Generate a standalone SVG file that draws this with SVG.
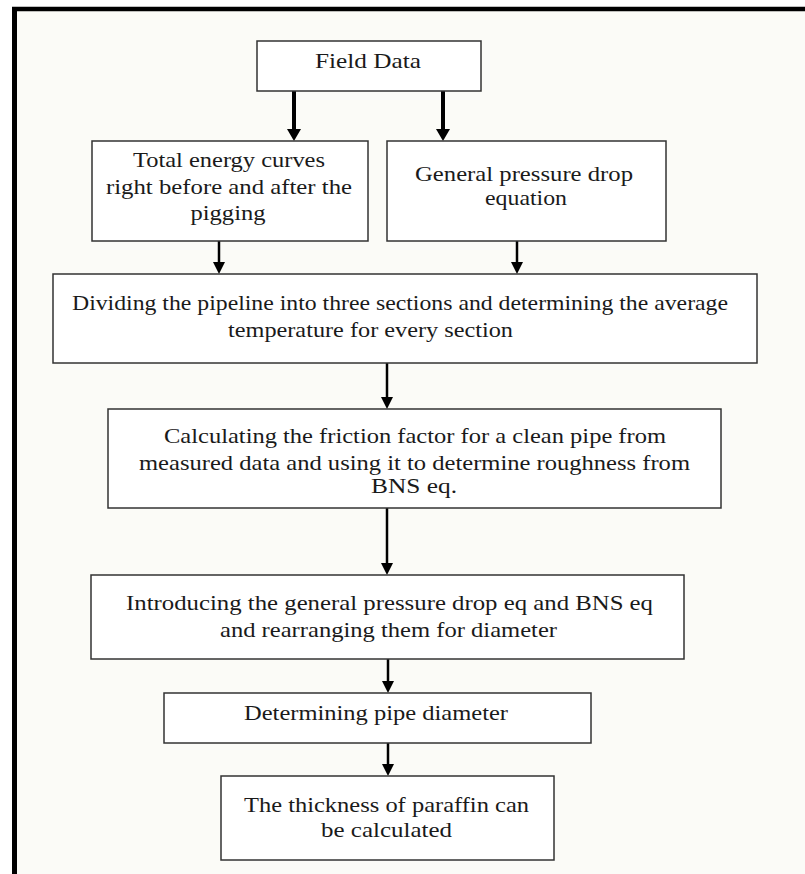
<svg xmlns="http://www.w3.org/2000/svg" width="805" height="874" viewBox="0 0 805 874">
<defs>
<style>
.box{fill:#ffffff;stroke:#333333;stroke-width:1.5}
.t{font-family:"Liberation Serif","Times New Roman",serif;font-size:22px;fill:#1a1a1a;text-anchor:middle}
.c{stroke:#000;fill:none}
.thick{stroke-width:4}
.thin{stroke-width:2.5}
</style>
</defs>
<rect x="0" y="0" width="805" height="874" fill="#ffffff"/>
<rect x="14" y="9" width="791" height="865" fill="#fbfbf7"/>
<g id="frame" stroke="#000" fill="none">
<line x1="12" y1="9" x2="805" y2="9" stroke-width="4.5"/>
<line x1="14.5" y1="7" x2="14.5" y2="874" stroke-width="5"/>
</g>
<g id="connectors">
<line class="c thick" x1="294" y1="91" x2="294" y2="129"/>
<line class="c thick" x1="443" y1="91" x2="443" y2="129"/>
<line class="c thin" x1="219" y1="241" x2="219" y2="262"/>
<line class="c thin" x1="517" y1="241" x2="517" y2="262"/>
<line class="c thin" x1="387" y1="363" x2="387" y2="397"/>
<line class="c thin" x1="387" y1="508" x2="387" y2="563"/>
<line class="c thin" x1="388" y1="659" x2="388" y2="681"/>
<line class="c thin" x1="388" y1="743" x2="388" y2="764"/>
<g fill="#000">
<polygon points="287,129 301,129 294,141"/>
<polygon points="436,129 450,129 443,141"/>
<polygon points="213,262 225,262 219,274"/>
<polygon points="511,262 523,262 517,274"/>
<polygon points="381,397 393,397 387,409"/>
<polygon points="381,563 393,563 387,575"/>
<polygon points="382,681 394,681 388,693"/>
<polygon points="382,764 394,764 388,776"/>
</g>
</g>
<g id="field-data">
<rect class="box" x="257" y="41" width="224" height="50"/>
<text class="t" x="368" y="68" textLength="106" lengthAdjust="spacingAndGlyphs">Field Data</text>
</g>
<g id="total-energy">
<rect class="box" x="92" y="141" width="276" height="100"/>
<text class="t" x="229" y="167" textLength="192" lengthAdjust="spacingAndGlyphs">Total energy curves</text>
<text class="t" x="229" y="194" textLength="246" lengthAdjust="spacingAndGlyphs">right before and after the</text>
<text class="t" x="228" y="220" textLength="75" lengthAdjust="spacingAndGlyphs">pigging</text>
</g>
<g id="general-pressure">
<rect class="box" x="387" y="141" width="279" height="100"/>
<text class="t" x="524" y="181" textLength="218" lengthAdjust="spacingAndGlyphs">General pressure drop</text>
<text class="t" x="526" y="205" textLength="82" lengthAdjust="spacingAndGlyphs">equation</text>
</g>
<g id="dividing">
<rect class="box" x="53" y="274" width="704" height="89"/>
<text class="t" x="400" y="310" textLength="656" lengthAdjust="spacingAndGlyphs">Dividing the pipeline into three sections and determining the average</text>
<text class="t" x="370.5" y="337" textLength="285" lengthAdjust="spacingAndGlyphs">temperature for every section</text>
</g>
<g id="calculating">
<rect class="box" x="108" y="409" width="613" height="99"/>
<text class="t" x="415" y="443" textLength="502" lengthAdjust="spacingAndGlyphs">Calculating the friction factor for a clean pipe from</text>
<text class="t" x="414.5" y="470" textLength="551" lengthAdjust="spacingAndGlyphs">measured data and using it to determine roughness from</text>
<text class="t" x="414" y="493" textLength="86" lengthAdjust="spacingAndGlyphs">BNS eq.</text>
</g>
<g id="introducing">
<rect class="box" x="91" y="575" width="593" height="84"/>
<text class="t" x="389.5" y="610" textLength="527" lengthAdjust="spacingAndGlyphs">Introducing the general pressure drop eq and BNS eq</text>
<text class="t" x="388.5" y="637" textLength="337" lengthAdjust="spacingAndGlyphs">and rearranging them for diameter</text>
</g>
<g id="determining">
<rect class="box" x="164" y="693" width="427" height="50"/>
<text class="t" x="376" y="720" textLength="264" lengthAdjust="spacingAndGlyphs">Determining pipe diameter</text>
</g>
<g id="thickness">
<rect class="box" x="221" y="776" width="333" height="84"/>
<text class="t" x="386.5" y="812" textLength="285" lengthAdjust="spacingAndGlyphs">The thickness of paraffin can</text>
<text class="t" x="386.5" y="837" textLength="131" lengthAdjust="spacingAndGlyphs">be calculated</text>
</g>
</svg>
